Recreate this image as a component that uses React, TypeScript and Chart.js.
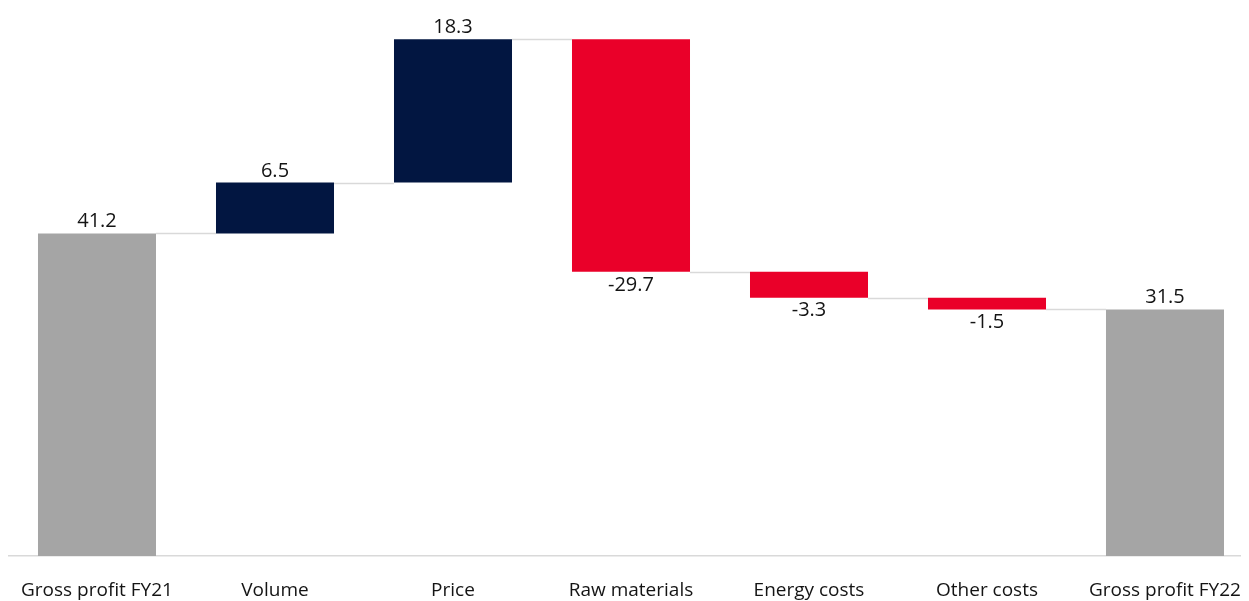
import React, { useEffect, useRef } from "react";
import { Chart, registerables } from "chart.js";

Chart.register(...registerables);

const categories = [
  "Gross profit FY21",
  "Volume",
  "Price",
  "Raw materials",
  "Energy costs",
  "Other costs",
  "Gross profit FY22",
];
const startValue = 41.2;
const deltas = [6.5, 18.3, -29.7, -3.3, -1.5];
const endValue = 31.5;
const labels = ["41.2", "6.5", "18.3", "-29.7", "-3.3", "-1.5", "31.5"];

const GREY = "#A5A5A5";
const NAVY = "#021641";
const RED = "#EA0029";

export default function App() {
  const ref = useRef<HTMLCanvasElement | null>(null);

  useEffect(() => {
    if (!ref.current) return;
    const ranges: [number, number][] = [];
    const colors: string[] = [];
    ranges.push([0, startValue]);
    colors.push(GREY);
    let run = startValue;
    for (const d of deltas) {
      ranges.push([run, run + d]);
      colors.push(d >= 0 ? NAVY : RED);
      run += d;
    }
    ranges.push([0, endValue]);
    colors.push(GREY);
    const levels = ranges.map((r) => r[1]);

    const overlay = {
      id: "overlay",
      afterDatasetsDraw(chart: any) {
        const ctx = chart.ctx;
        const meta = chart.getDatasetMeta(0);
        const y = chart.scales.y;
        ctx.save();
        ctx.strokeStyle = "#D9D9D9";
        ctx.lineWidth = 1.5;
        for (let i = 0; i < meta.data.length - 1; i++) {
          const a = meta.data[i] as any;
          const b = meta.data[i + 1] as any;
          const yy = Math.round(y.getPixelForValue(levels[i])) + 0.5;
          ctx.beginPath();
          ctx.moveTo(a.x + a.width / 2, yy);
          ctx.lineTo(b.x - b.width / 2, yy);
          ctx.stroke();
        }
        ctx.fillStyle = "#141414";
        ctx.font = "20px 'Open Sans'";
        ctx.textAlign = "center";
        meta.data.forEach((el: any, i: number) => {
          const r = ranges[i];
          const top = Math.max(r[0], r[1]);
          const bot = Math.min(r[0], r[1]);
          if (labels[i].startsWith("-")) {
            ctx.textBaseline = "top";
            ctx.fillText(labels[i], el.x, y.getPixelForValue(bot) + 3);
          } else {
            ctx.textBaseline = "alphabetic";
            ctx.fillText(labels[i], el.x, y.getPixelForValue(top) - 6);
          }
        });
        ctx.restore();
      },
    };

    const chart = new Chart(ref.current, {
      type: "bar",
      data: {
        labels: categories,
        datasets: [
          {
            data: ranges as any,
            backgroundColor: colors,
            borderWidth: 0,
            categoryPercentage: 1,
            barPercentage: 0.663,
          },
        ],
      },
      options: {
        animation: false,
        responsive: false,
        maintainAspectRatio: false,
        layout: { padding: 0, autoPadding: false },
        plugins: { legend: { display: false }, tooltip: { enabled: false } },
        scales: {
          x: {
            grid: { display: false },
            border: { display: true, color: "#D9D9D9", width: 1.5 },
            ticks: {
              color: "#141414",
              font: { family: "'Open Sans'", size: 19 },
              padding: 15,
              maxRotation: 0,
              autoSkip: false,
            },
            afterFit(scale: any) {
              scale.height = 45;
              scale.paddingLeft = 0;
              scale.paddingRight = 0;
            },
          },
          y: {
            display: false,
            min: 0,
            max: 70,
          },
        },
      },
      plugins: [overlay],
    });
    return () => chart.destroy();
  }, []);

  return (
    <div style={{ width: 1241, height: 593, overflow: "hidden" }}>
      <canvas ref={ref} width={1246} height={593} style={{ display: "block" }} />
    </div>
  );
}
